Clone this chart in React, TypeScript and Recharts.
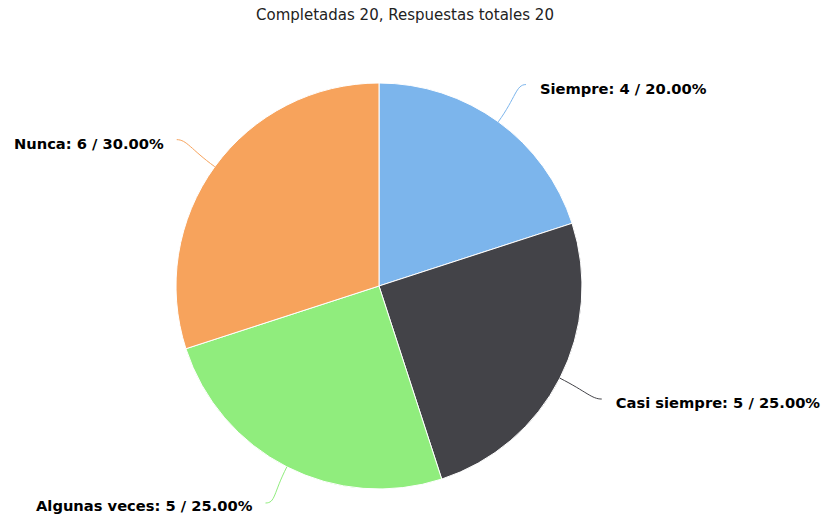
import { PieChart, Pie, Cell } from "recharts";

const categories = ["Siempre", "Casi siempre", "Algunas veces", "Nunca"];
const counts = [4, 5, 5, 6];
const colors = ["#7cb5ec", "#434348", "#90ed7d", "#f7a35c"];
const titleText = "Completadas 20, Respuestas totales 20";

const data = categories.map((name, i) => ({ name, value: counts[i] }));
const total = counts.reduce((a, b) => a + b, 0);

const RAD = Math.PI / 180;
const W = 825;
const H = 517;

const renderLabel = (props: any) => {
  const { cx, cy, midAngle, outerRadius, index, name, value } = props;
  const cos = Math.cos(-midAngle * RAD);
  const sin = Math.sin(-midAngle * RAD);
  const sx = cx + outerRadius * cos;
  const sy = cy + outerRadius * sin;
  const mx = cx + (outerRadius + 30) * cos;
  const my = cy + (outerRadius + 30) * sin;
  const ex = cx + (outerRadius + 47) * cos;
  const ey = Math.min(cy + (outerRadius + 46) * sin, H - 14);
  const side = cos >= 0 ? 1 : -1;
  const pct = ((value / total) * 100).toFixed(2);
  const ty = Math.min(ey + 5, H - 10);
  return (
    <g>
      <path
        d={`M${sx},${sy} C${mx},${my} ${ex - side * 10},${ey} ${ex},${ey}`}
        stroke={colors[index]}
        strokeWidth={1}
        fill="none"
      />
      <text
        x={ex + side * (side > 0 ? 14 : 13)}
        y={ty}
        textAnchor={side > 0 ? "start" : "end"}
        dominantBaseline="middle"
        fontFamily="DejaVu Sans"
        fontSize={14.7}
        fontWeight="bold"
        fill="#000"
      >
        {`${name}: ${value} / ${pct}%`}
      </text>
    </g>
  );
};

export default function App() {
  return (
    <div style={{ position: "absolute", left: 0, top: 0, width: W, height: H, background: "#fff" }}>
      <div
        style={{
          position: "absolute",
          top: 6,
          left: 0,
          width: 810,
          textAlign: "center",
          fontFamily: "DejaVu Sans",
          fontSize: 15,
          color: "#222",
        }}
      >
        {titleText}
      </div>
      <PieChart width={W} height={H} margin={{ top: 0, right: 0, bottom: 0, left: 0 }}>
        <Pie
          data={data}
          dataKey="value"
          nameKey="name"
          cx={379}
          cy={286}
          outerRadius={203}
          startAngle={90}
          endAngle={-270}
          stroke="#fff"
          strokeWidth={1}
          label={renderLabel}
          labelLine={false}
          isAnimationActive={false}
        >
          {data.map((d, i) => (
            <Cell key={d.name} fill={colors[i]} />
          ))}
        </Pie>
      </PieChart>
    </div>
  );
}
